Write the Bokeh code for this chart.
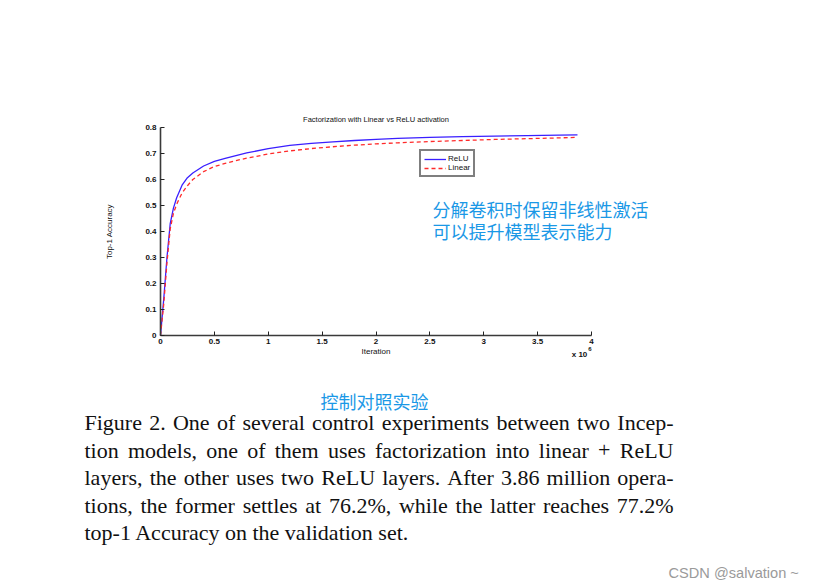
from bokeh.plotting import figure
from bokeh.models import Label, Legend, LegendItem, Range1d, FixedTicker
from bokeh.embed import file_html
from bokeh.resources import INLINE

# ---------------- data ----------------
iterations_m = [0, 0.03, 0.06, 0.09, 0.12, 0.15, 0.2, 0.25, 0.3, 0.4, 0.5, 0.6, 0.7,
                0.8, 1.0, 1.2, 1.4, 1.6, 1.8, 2.0, 2.2, 2.5, 2.8, 3.1, 3.4, 3.7, 3.87]
relu_acc = [0, 0.14, 0.30, 0.43, 0.49, 0.53, 0.578, 0.607, 0.625, 0.652, 0.670, 0.681,
            0.692, 0.702, 0.719, 0.731, 0.739, 0.745, 0.750, 0.754, 0.758, 0.762,
            0.765, 0.767, 0.769, 0.771, 0.772]
linear_acc = [0, 0.12, 0.28, 0.41, 0.47, 0.505, 0.548, 0.576, 0.600, 0.630, 0.650, 0.662,
              0.673, 0.682, 0.698, 0.710, 0.719, 0.726, 0.732, 0.737, 0.741, 0.746,
              0.750, 0.754, 0.757, 0.760, 0.762]
x_ticks = [0, 0.5, 1, 1.5, 2, 2.5, 3, 3.5, 4]
x_tick_labels = ["0", "0.5", "1", "1.5", "2", "2.5", "3", "3.5", "4"]
y_ticks = [0, 0.1, 0.2, 0.3, 0.4, 0.5, 0.6, 0.7, 0.8]
y_tick_labels = ["0", "0.1", "0.2", "0.3", "0.4", "0.5", "0.6", "0.7", "0.8"]

chart_title = "Factorization with Linear vs ReLU activation"
x_label = "Iteration"
y_label = "Top-1 Accuracy"
series_names = ["ReLU", "Linear"]
note_lines = ["分解卷积时保留非线性激活", "可以提升模型表示能力"]
note2 = "控制对照实验"
caption_lines = [
    "Figure 2. One of several control experiments between two Incep-",
    "tion models, one of them uses factorization into linear + ReLU",
    "layers, the other uses two ReLU layers. After 3.86 million opera-",
    "tions, the former settles at 76.2%, while the latter reaches 77.2%",
    "top-1 Accuracy on the validation set.",
]
watermark = "CSDN @salvation ~"

# ---------------- layout ----------------
W, H = 829, 587
AX_L, AX_R, AX_T, AX_B = 160, 591, 127, 335   # axes box in canvas px
XMIN, XMAX, YMIN, YMAX = 0, 4, 0, 0.8
kx = (AX_R - AX_L) / (XMAX - XMIN)
ky = (AX_B - AX_T) / (YMAX - YMIN)


def dx(cx):
    return XMIN + (cx - AX_L) / kx


def dy(cy):
    return YMIN + (AX_B - cy) / ky


p = figure(width=W, height=H, output_backend="svg", toolbar_location=None,
           x_range=Range1d(dx(0), dx(W)), y_range=Range1d(dy(H), dy(0)),
           min_border=0, min_border_left=0, min_border_right=0,
           min_border_top=0, min_border_bottom=0)
p.outline_line_color = None
p.background_fill_color = "white"
p.border_fill_color = "white"
p.xgrid.visible = False
p.ygrid.visible = False

for ax in (p.xaxis[0], p.yaxis[0]):
    ax.fixed_location = 0
    ax.axis_line_color = "#3a3a3a"
    ax.axis_line_width = 1.6
    ax.major_tick_in = 4
    ax.major_tick_out = 0
    ax.major_tick_line_color = "#222222"
    ax.minor_tick_line_color = None
    ax.major_label_text_font = "Liberation Sans"
    ax.major_label_text_font_size = "8px"
    ax.major_label_text_font_style = "bold"
    ax.major_label_text_color = "#111111"
    ax.axis_label_text_font = "Liberation Sans"
    ax.axis_label_text_font_size = "8px"
    ax.axis_label_text_font_style = "normal"
    ax.axis_label_text_color = "#111111"

p.xaxis.bounds = (XMIN, XMAX)
p.yaxis.bounds = (YMIN, YMAX)
p.xaxis.ticker = FixedTicker(ticks=x_ticks)
p.xaxis.major_label_overrides = {t: l for t, l in zip(x_ticks, x_tick_labels)}
p.yaxis.ticker = FixedTicker(ticks=y_ticks)
p.yaxis.major_label_overrides = {t: l for t, l in zip(y_ticks, y_tick_labels)}
p.xaxis.axis_label = x_label
p.yaxis.axis_label = y_label
p.xaxis.major_label_standoff = 3
p.xaxis.axis_label_standoff = 0
p.yaxis.major_label_standoff = 4
p.yaxis.axis_label_standoff = 28

r1 = p.line(iterations_m, relu_acc, line_color="#3a1fff", line_width=1.3)
r2 = p.line(iterations_m, linear_acc, line_color="#ff2a2a", line_width=1.3, line_dash="4 3")

legend = Legend(items=[LegendItem(label=series_names[0], renderers=[r1]),
                       LegendItem(label=series_names[1], renderers=[r2])],
                location=(419, H - 177))
legend.border_line_color = "black"
legend.border_line_width = 2
legend.label_text_font = "Liberation Sans"
legend.label_text_font_size = "8px"
legend.label_text_color = "#111111"
legend.label_height = 8
legend.glyph_height = 8
legend.glyph_width = 22
legend.label_standoff = 2
legend.spacing = 0
legend.padding = 3
legend.margin = 0
legend.background_fill_color = "white"
p.add_layout(legend, "center")

# title
p.add_layout(Label(x=dx(375.5), y=dy(119), text=chart_title, text_align="center",
                   text_baseline="middle", text_font="Liberation Sans",
                   text_font_size="7.5px", text_color="#111111"))
# x 10^6
p.add_layout(Label(x=dx(579), y=dy(353.5), text="x 10", text_align="center",
                   text_baseline="middle", text_font="Liberation Sans",
                   text_font_size="8px", text_font_style="bold", text_color="#111111"))
p.add_layout(Label(x=dx(589.5), y=dy(348), text="6", text_align="center",
                   text_baseline="middle", text_font="Liberation Sans",
                   text_font_size="6px", text_font_style="bold", text_color="#111111"))

# blue notes
for i, t in enumerate(note_lines):
    p.add_layout(Label(x=dx(432), y=dy(208 + 22 * i), text=t, text_align="left",
                       text_baseline="middle", text_font="Noto Sans CJK SC",
                       text_font_size="18px", text_color="#1a98e6"))
p.add_layout(Label(x=dx(320), y=dy(400), text=note2, text_align="left",
                   text_baseline="middle", text_font="Noto Sans CJK SC",
                   text_font_size="18px", text_color="#1a98e6"))

# caption (justified, using Times/Liberation Serif advance widths)
TIMES = {' ': 250, 'a': 444, 'b': 500, 'c': 444, 'd': 500, 'e': 444, 'f': 333, 'g': 500,
         'h': 500, 'i': 278, 'j': 278, 'k': 500, 'l': 278, 'm': 778, 'n': 500, 'o': 500,
         'p': 500, 'q': 500, 'r': 333, 's': 389, 't': 278, 'u': 500, 'v': 500, 'w': 722,
         'x': 500, 'y': 500, 'z': 444, 'A': 722, 'B': 667, 'C': 667, 'D': 722, 'E': 611,
         'F': 556, 'G': 722, 'H': 722, 'I': 333, 'J': 389, 'K': 722, 'L': 611, 'M': 889,
         'N': 722, 'O': 722, 'P': 556, 'Q': 722, 'R': 667, 'S': 556, 'T': 611, 'U': 722,
         'V': 722, 'W': 944, 'X': 722, 'Y': 722, 'Z': 611, '.': 250, ',': 250, '-': 333,
         '%': 833, '+': 564, ':': 278}
CAP_FS = 22.0
CAP_L, CAP_R = 84, 673


def word_w(w):
    return sum(TIMES.get(c, 500) for c in w) * CAP_FS / 1000.0


for i, t in enumerate(caption_lines):
    base = dy(422 + 27.5 * i)
    if i == len(caption_lines) - 1:
        p.add_layout(Label(x=dx(CAP_L), y=base, text=t, text_align="left",
                           text_baseline="alphabetic", text_font="Liberation Serif",
                           text_font_size=f"{CAP_FS}px", text_color="#111111"))
        continue
    words = t.split(" ")
    total = sum(word_w(w) for w in words)
    gap = (CAP_R - CAP_L - total) / (len(words) - 1)
    cx = CAP_L
    for w in words:
        p.add_layout(Label(x=dx(cx), y=base, text=w, text_align="left",
                           text_baseline="alphabetic", text_font="Liberation Serif",
                           text_font_size=f"{CAP_FS}px", text_color="#111111"))
        cx += word_w(w) + gap

# watermark
p.add_layout(Label(x=dx(668), y=dy(572), text=watermark, text_align="left",
                   text_baseline="middle", text_font="Liberation Sans",
                   text_font_size="14.6px", text_color="#9a9a9a"))

open("out.html", "w").write(file_html(p, INLINE))
